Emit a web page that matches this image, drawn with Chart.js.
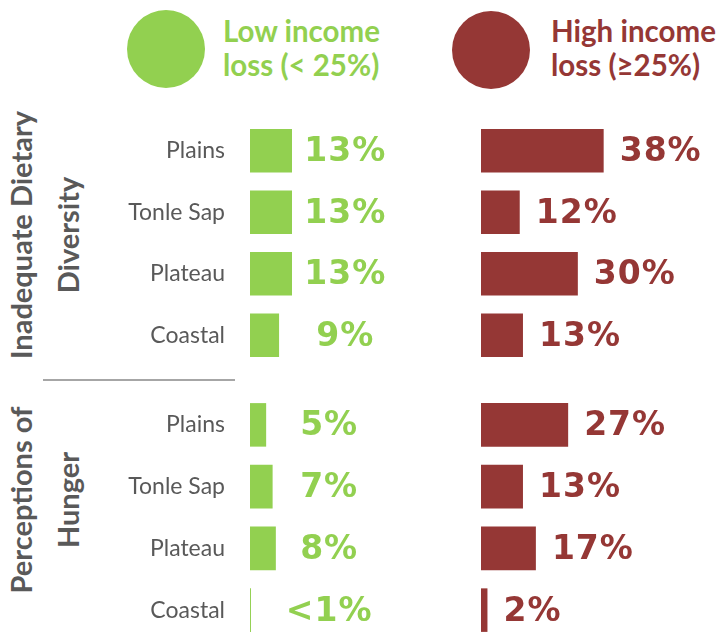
<!DOCTYPE html>
<html>
<head>
<meta charset="utf-8">
<script src="https://cdn.jsdelivr.net/npm/chart.js@4.4.1/dist/chart.umd.min.js"></script>
<style>
    html, body { margin: 0; padding: 0; width: 716px; height: 632px; overflow: hidden; background: #fff; }
    .dot { position: absolute; width: 78px; height: 78px; border-radius: 50%; }
    .legend-text { position: absolute; font: 700 29.5px Lato, sans-serif; line-height: 34px; white-space: nowrap; }
    .group-title { position: absolute; font: 700 29px Lato, sans-serif; color: #595959; line-height: 47px;
                   text-align: center; white-space: nowrap; transform: translate(-50%, -50%) rotate(-90deg); }
    .divider { position: absolute; left: 43px; top: 379px; width: 192px; height: 2px; background: #a6a6a6; }
    .chart-box { position: absolute; left: 0; width: 716px; }
</style>
</head>
<body>
<div class="dot" style="left:127px; top:10px; background:#92d050;"></div>
<div class="legend-text" style="left:223px; top:14px; color:#92d050;">Low income<br>loss (&lt; 25%)</div>
<div class="dot" style="left:452px; top:11px; background:#953735;"></div>
<div class="legend-text" style="left:551px; top:14px; color:#953735;">High income<br>loss (≥25%)</div>

<div class="group-title" style="left:44px; top:235px;">Inadequate Dietary<br>Diversity</div>
<div class="group-title" style="left:44px; top:500px;">Perceptions of<br>Hunger</div>
<div class="divider"></div>

<div class="chart-box" style="top:100px; height:286px;"><canvas id="dietChart"></canvas></div>
<div class="chart-box" style="top:374px; height:287px;"><canvas id="hungerChart"></canvas></div>

<script>
const regions = ['Plains', 'Tonle Sap', 'Plateau', 'Coastal'];

// Inadequate dietary diversity (%)
const dietLow = [13, 13, 13, 9];
const dietHigh = [38, 12, 30, 13];

// Perceptions of hunger (%) - coastal low-loss value is "<1%"
const hungerLow = [5, 7, 8, 0.3];
const hungerHigh = [27, 13, 17, 2];

const GREEN = '#92d050';
const RED = '#953735';

function fmt(v) {
    return v < 1 ? '<1%' : v + '%';
}

// draws the big percentage next to each bar
const valueLabels = {
    id: 'valueLabels',
    afterDatasetsDraw(chart, args, opts) {
        const ctx = chart.ctx;
        ctx.save();
        ctx.font = 'bold 33px "DejaVu Sans", sans-serif';
        ctx.letterSpacing = '1px';
        ctx.textBaseline = 'middle';
        chart.data.datasets.forEach((ds, i) => {
            const meta = chart.getDatasetMeta(i);
            ctx.fillStyle = ds.backgroundColor;
            meta.data.forEach((bar, j) => {
                const text = fmt(ds.data[j]);
                if (ds.xAxisID === 'xLow') {
                    ctx.textAlign = 'center';
                    ctx.fillText(text, chart.scales.xLow.getPixelForValue(opts.lowCenter), bar.y + 2);
                } else {
                    ctx.textAlign = 'left';
                    ctx.fillText(text, bar.x + 16, bar.y + 2);
                }
            });
        });
        ctx.restore();
    }
};

function makeChart(id, low, high, lowCenter) {
    return new Chart(document.getElementById(id), {
        type: 'bar',
        data: {
            labels: regions,
            datasets: [
                { data: low, xAxisID: 'xLow', backgroundColor: GREEN, borderWidth: 0,
                  grouped: false, categoryPercentage: 1, barPercentage: 0.705 },
                { data: high, xAxisID: 'xHigh', backgroundColor: RED, borderWidth: 0,
                  grouped: false, categoryPercentage: 1, barPercentage: 0.705 }
            ]
        },
        options: {
            indexAxis: 'y',
            responsive: true,
            maintainAspectRatio: false,
            animation: false,
            layout: { padding: { top: 20, bottom: 20, left: 0, right: 0 } },
            scales: {
                y: {
                    // grid hidden, but tick length keeps labels clear of the bars
                    grid: { display: false, drawTicks: true, tickLength: 25 },
                    border: { display: false },
                    ticks: { color: '#595959', padding: 0, font: { family: 'Lato', size: 23 } },
                    afterFit: (scale) => { scale.width = 250; }
                },
                xLow: { type: 'linear', axis: 'x', position: 'bottom', stack: 'cols', stackWeight: 231,
                        min: 0, max: 71.5, display: false },
                xHigh: { type: 'linear', axis: 'x', position: 'bottom', stack: 'cols', stackWeight: 235,
                         min: 0, max: 72.8, display: false }
            },
            plugins: {
                legend: { display: false },
                tooltip: { enabled: false },
                valueLabels: { lowCenter: lowCenter }
            }
        },
        plugins: [valueLabels]
    });
}

makeChart('dietChart', dietLow, dietHigh, 29.5);
makeChart('hungerChart', hungerLow, hungerHigh, 24.5);
</script>
</body>
</html>
